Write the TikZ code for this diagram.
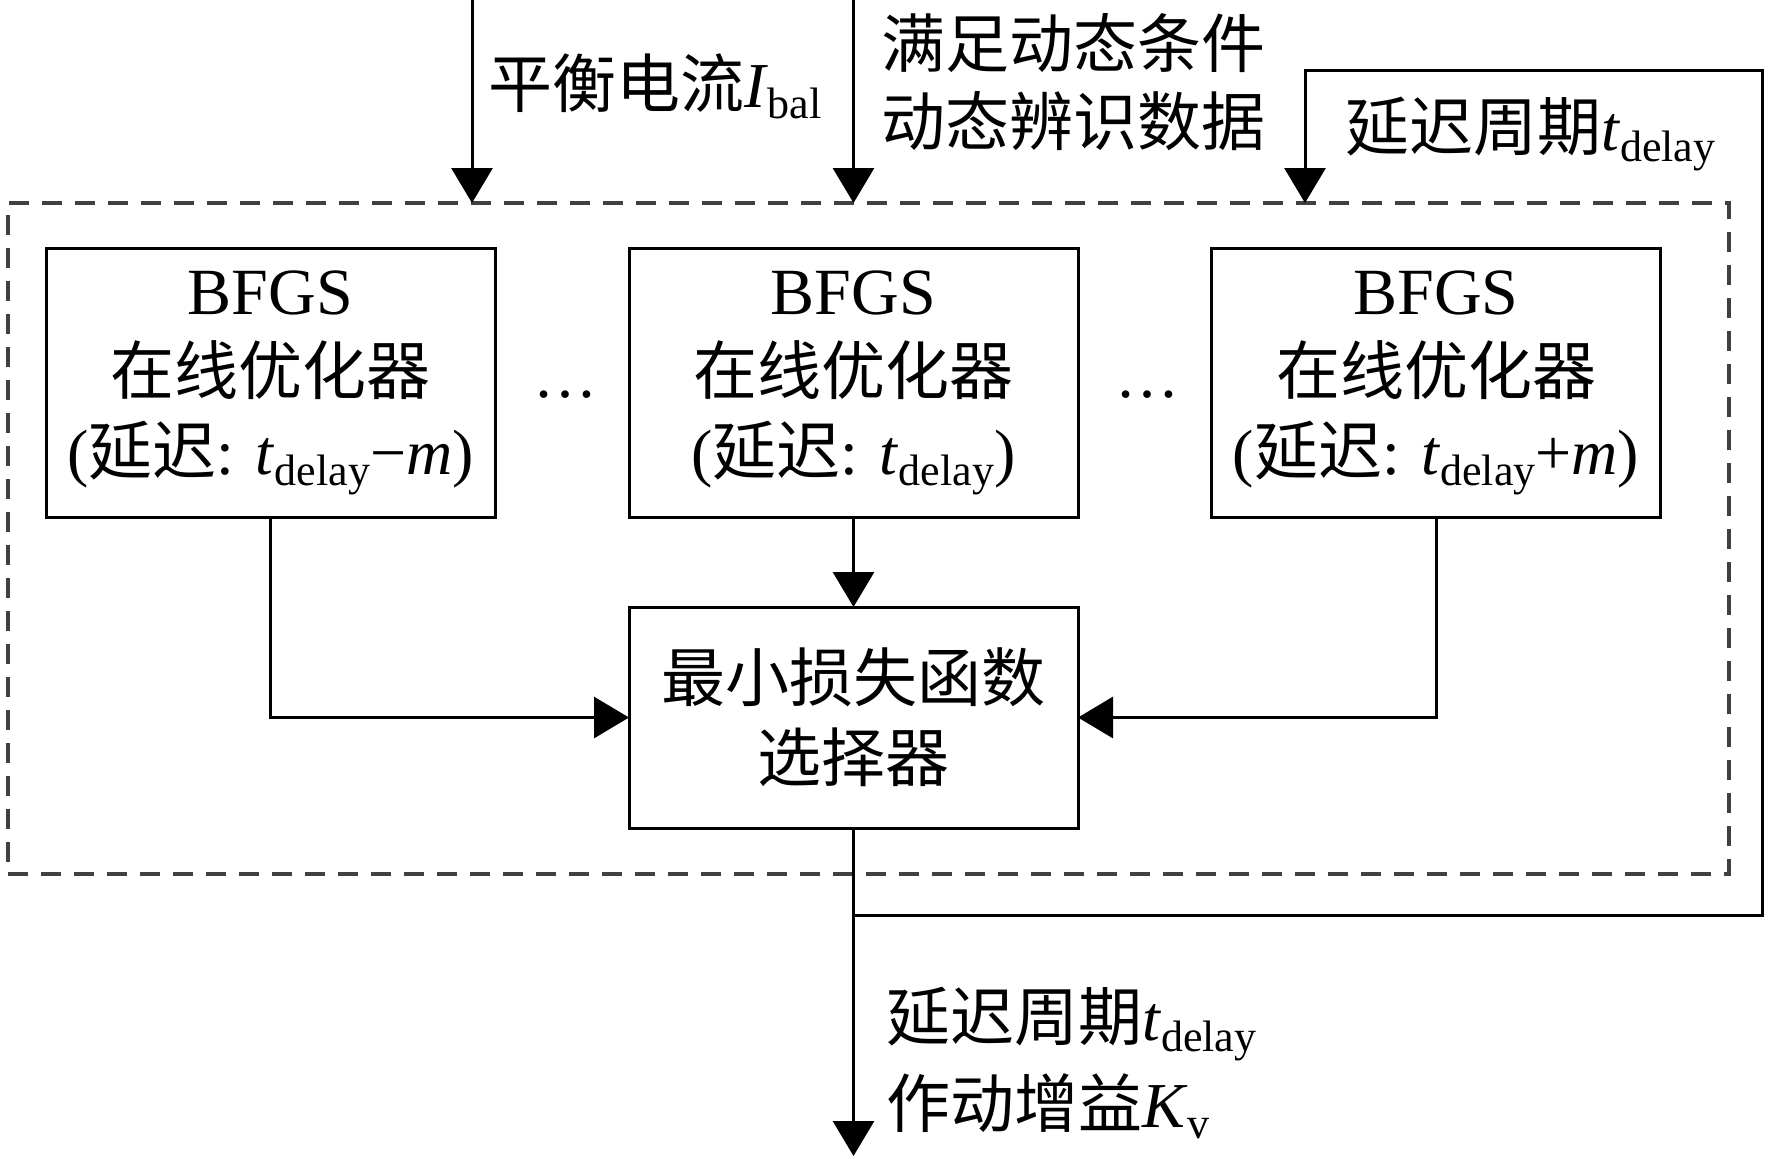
\documentclass[tikz,border=0pt]{standalone}
\usepackage{fontspec}
\setmainfont{Liberation Serif}
\newfontfamily\cjk{Noto Sans CJK SC}
\usetikzlibrary{arrows.meta,fit,calc}
\newcommand\subsc[1]{\raisebox{-5.5pt}{\fontsize{22}{22}\selectfont #1}}
\newcommand\tdelay{\textit{t}\subsc{delay}}
\begin{document}
\begin{tikzpicture}[x=0.5pt,y=-0.5pt,
  every node/.style={inner sep=0pt, outer sep=0pt},
  box/.style={draw, line width=1.5pt, minimum width=224.5pt, minimum height=134.5pt,
    align=center, font=\fontsize{32}{40}\selectfont},
  selbox/.style={box, minimum height=110.5pt},
  lbl/.style={font=\fontsize{32}{40}\selectfont},
  frame/.style={draw=black!75, line width=1.8pt, dash pattern=on 10pt off 6.5pt},
  conn/.style={line width=1.5pt, -{Triangle[length=17.5pt,width=20.5pt]}},
  wire/.style={line width=1.5pt}]
\useasboundingbox (0,0) rectangle (1772,1158);
\fill[white] (0,0) rectangle (1772,1158);
% frame
\coordinate (ftl) at (8,203);
\coordinate (fbr) at (1729,874);
\node[frame, fit=(ftl)(fbr), inner sep=0pt] (frame) {};
% boxes
\node[box] (b1) at (270.5,382.5) {{\fontsize{33}{40}\selectfont BFGS}\\{\cjk 在线优化器}\\({\cjk 延迟}: \tdelay−\textit{m})};
\node[box] (b2) at (853.5,382.5) {{\fontsize{33}{40}\selectfont BFGS}\\{\cjk 在线优化器}\\({\cjk 延迟}: \tdelay)};
\node[box] (b3) at (1436,382.5) {{\fontsize{33}{40}\selectfont BFGS}\\{\cjk 在线优化器}\\({\cjk 延迟}: \tdelay+\textit{m})};
\node[selbox] (sel) at (853.5,717.5) {{\cjk 最小损失函数}\\{\cjk 选择器}};
\node[lbl, anchor=base] (d1) at (565,397) {…};
\node[lbl, anchor=base] (d2) at (1147,397) {…};
% connectors inside
\draw[conn] (b1.south) |- (sel.west);
\draw[conn] (b3.south) |- (sel.east);
\draw[conn] (b2.south) -- (sel.north);
% inputs
\coordinate (in1) at (472,0);
\coordinate (in2) at (853.5,0);
\draw[conn] (in1) -- (in1 |- frame.north);
\draw[conn] (in2) -- (in2 |- frame.north);
% loop
\coordinate (j) at (853.5,915);
\coordinate (lr) at (1762,915);
\coordinate (ur) at (1762,70);
\coordinate (ul) at (1305,70);
\draw[conn] (j) -- (lr) -- (ur) -- (ul) -- (ul |- frame.north);
\coordinate (out) at (853.5,1156);
\draw[conn] (sel.south) -- (out);
% labels
\node[lbl, anchor=base west] (tI) at (488,107) {{\cjk 平衡电流}\textit{I}\subsc{bal}};
\node[lbl, anchor=base west] (tD1) at (881,67) {\cjk 满足动态条件};
\node[lbl, anchor=base west] (tD2) at (881,145) {\cjk 动态辨识数据};
\node[lbl, anchor=base west] (tT) at (1345,150) {{\cjk 延迟周期}\tdelay};
\node[lbl, anchor=base west] (o1) at (886,1040) {{\cjk 延迟周期}\tdelay};
\node[lbl, anchor=base west] (o2) at (886,1127) {{\cjk 作动增益}\textit{K}\subsc{v}};
\end{tikzpicture}
\end{document}
